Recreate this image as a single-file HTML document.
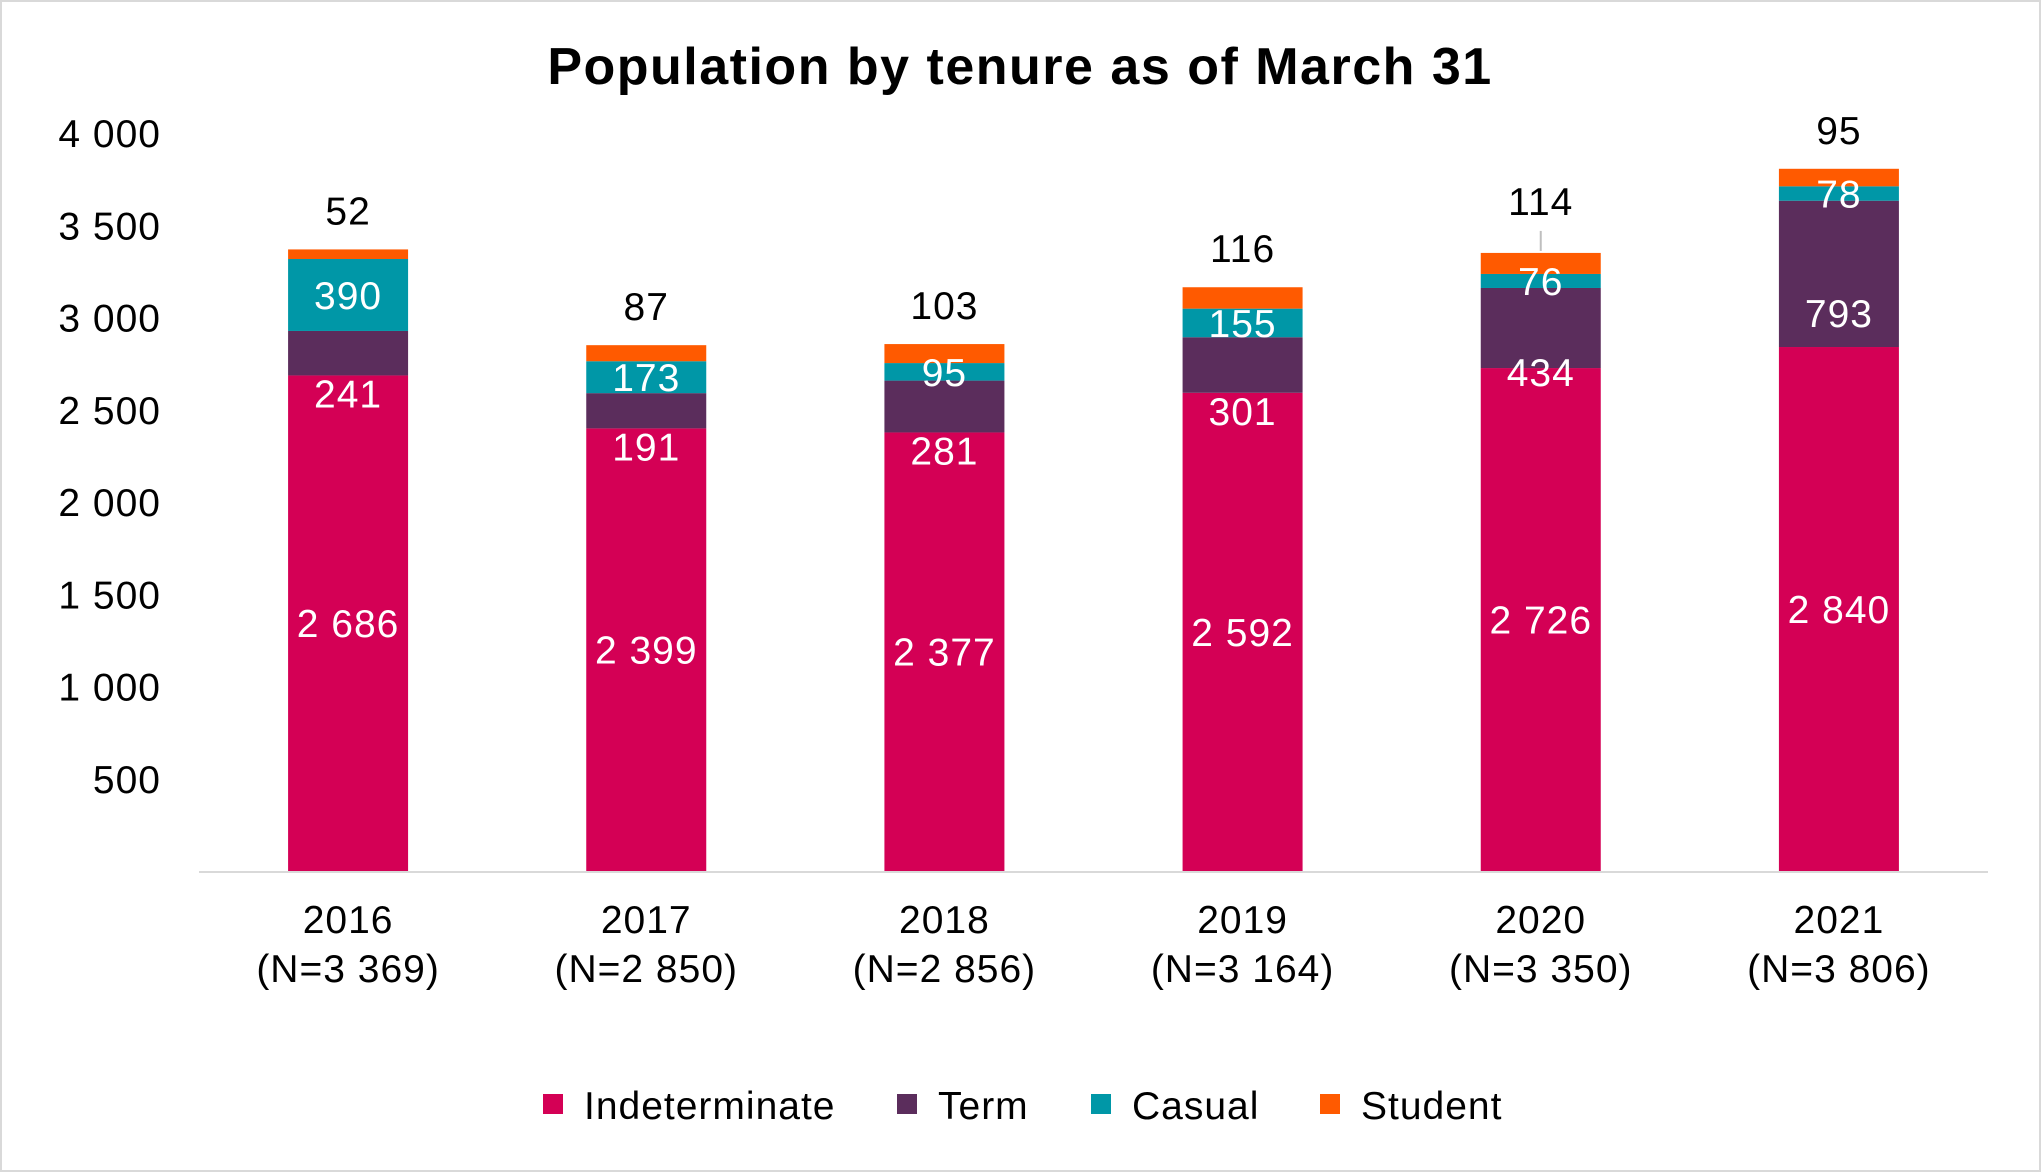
<!DOCTYPE html>
<html><head><meta charset="utf-8"><style>
html,body{margin:0;padding:0;background:#fff}
svg{display:block;font-family:"Liberation Sans",Arial,sans-serif}
</style></head><body>
<svg id="chart" width="2041" height="1172" viewBox="0 0 2041 1172">
<rect x="1" y="1" width="2039" height="1170" fill="#fff" stroke="#d9d9d9" stroke-width="2"/>
<text x="1020" y="84" text-anchor="middle" font-size="52" font-weight="bold" letter-spacing="1.5" fill="#000">Population by tenure as of March 31</text>
<g id="yaxis"></g>
<g id="bars"></g>
<g id="xaxis"></g>
<g id="legend"></g>
</svg>
<script>
const years = ["2016","2017","2018","2019","2020","2021"];
const totals = ["3 369","2 850","2 856","3 164","3 350","3 806"];
const indeterminate = [2686,2399,2377,2592,2726,2840];
const term = [241,191,281,301,434,793];
const casual = [390,173,95,155,76,78];
const student = [52,87,103,116,114,95];
const yTicks = [500,1000,1500,2000,2500,3000,3500,4000];
const seriesNames = ["Indeterminate","Term","Casual","Student"];
const colors = ["#D40055","#5B2D5C","#0097A7","#FF5A00"];

const NS="http://www.w3.org/2000/svg";
const X0=199,X1=1988,Y0=871,Y4000=133;
const FS=39, LS=1;
const y=v=>Y0-(Y0-Y4000)*v/4000;
const band=(X1-X0)/years.length;
const xc=i=>X0+band*(i+0.5);
const BW=120;
function el(tag,attrs,parent,txt){const e=document.createElementNS(NS,tag);for(const k in attrs)e.setAttribute(k,attrs[k]);if(txt!==undefined)e.textContent=txt;parent.appendChild(e);return e;}
const fmt=v=>String(v).replace(/\B(?=(\d{3})+(?!\d))/g," ");

const ya=document.getElementById('yaxis');
yTicks.forEach(t=>{
  const e=el('text',{x:161,y:y(t)+14,'text-anchor':'end','font-size':FS,'letter-spacing':LS,fill:'#000'},ya,fmt(t));
  
  
});
const ax=el('line',{x1:X0,x2:X1,y1:Y0+1,y2:Y0+1,stroke:'#d9d9d9','stroke-width':2},ya);



const bg=document.getElementById('bars');
const xa=document.getElementById('xaxis');
years.forEach((yr,i)=>{
  const vals=[indeterminate[i],term[i],casual[i],student[i]];
  let base=0;const segs=[];
  vals.forEach((v,s)=>{
    const r=el('rect',{x:xc(i)-BW/2,y:y(base+v),width:BW,height:y(base)-y(base+v),fill:colors[s]},bg);
    
    
    segs.push([base,base+v]);base+=v;
  });
  const lbl=(txt,ly,fill,nm)=>{const t=el('text',{x:xc(i),y:ly,'text-anchor':'middle','font-size':FS,'letter-spacing':LS,fill:fill},bg,txt);
    
    };
  lbl(fmt(vals[0]),(y(segs[0][0])+y(segs[0][1]))/2+14,'#fff','label-indeterminate-'+yr);
  let ty = y(segs[1][0])+32;
  if(i===4) ty = y(segs[1][0])+18;
  if(i===5) ty = y(segs[1][0])-20;
  lbl(fmt(vals[1]),ty,'#fff','label-term-'+yr);
  lbl(fmt(vals[2]),(y(segs[2][0])+y(segs[2][1]))/2+14,'#fff','label-casual-'+yr);
  const off = i===4 ? 38 : 25;
  if(i===4){const ln=el('line',{x1:xc(i),x2:xc(i),y1:y(segs[3][1])-2,y2:y(segs[3][1])-22,stroke:'#bfbfbf','stroke-width':2},bg);
    
    }
  lbl(fmt(vals[3]),y(segs[3][1])-off,'#000','label-student-'+yr);
  const a=el('text',{x:xc(i),y:933,'text-anchor':'middle','font-size':FS,'letter-spacing':LS,fill:'#000'},xa,yr);
  
  
  const b=el('text',{x:xc(i),y:982,'text-anchor':'middle','font-size':FS,'letter-spacing':LS,fill:'#000'},xa,'(N='+totals[i]+')');
  
  
});

const lg=document.getElementById('legend');
const lx=[543,897,1091,1320];
seriesNames.forEach((n,s)=>{
  const g=el('g',{},lg);
  
  
  el('rect',{x:lx[s],y:1094,width:20,height:20,fill:colors[s]},g);
  el('text',{x:lx[s]+41,y:1119,'font-size':FS,'letter-spacing':LS,fill:'#000'},g,n);
});
</script>
</body></html>
